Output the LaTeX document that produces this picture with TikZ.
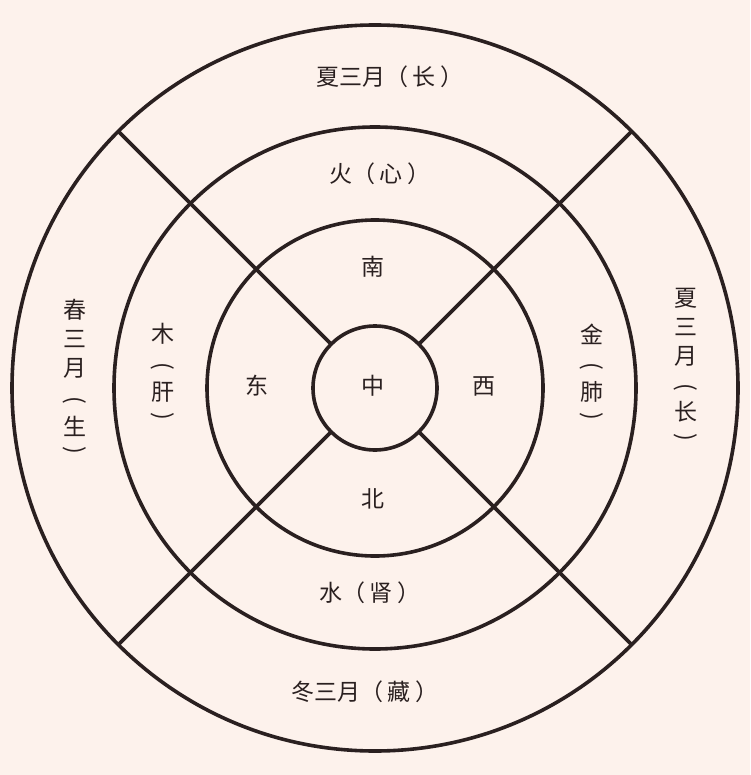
\documentclass[tikz,border=0pt]{standalone}
\usepackage{fontspec}
\usetikzlibrary{calc}
\newfontfamily\cjk{Noto Sans CJK SC}
\definecolor{bg}{HTML}{FDF2EC}
\definecolor{ink}{HTML}{2A2020}
\newcommand{\lp}{（\hspace{5pt}}
\newcommand{\rp}{\hspace{5pt}）}
\begin{document}
\begin{tikzpicture}[x=1pt,y=-1pt,
  ring/.style={draw=ink,line width=3.6pt},
  spoke/.style={draw=ink,line width=3.6pt},
  lab/.style={font=\cjk\fontsize{23}{23}\selectfont,text=ink,inner sep=0pt},
  vp/.style={lab,rotate=-90}]
\fill[bg] (0,0) rectangle (750,775);
\useasboundingbox (0,0) rectangle (750,775);
\coordinate (c) at (375,388);
\draw[ring] (c) circle (363);
\draw[ring] (c) circle (261);
\draw[ring] (c) circle (168);
\draw[ring] (c) circle (62);
\foreach \a in {45,135,225,315}{
  \draw[spoke] ($(c)+(\a:62)$) -- ($(c)+(\a:363)$);
}
\node[lab] (t1) at (390,77) {夏三月\lp 长\rp};
\node[lab] (t2) at (380,174) {火\lp 心\rp};
\node[lab] (t3) at (373,267) {南};
\node[lab] (t4) at (257,386) {东};
\node[lab] (t5) at (373,386) {中};
\node[lab] (t6) at (484,386) {西};
\node[lab] (t7) at (373,499) {北};
\node[lab] (t8) at (370,593) {水\lp 肾\rp};
\node[lab] (t9) at (365,692) {冬三月\lp 藏\rp};
\node[lab] (l1) at (75,310) {春};
\node[lab] (l2) at (75,339) {三};
\node[lab] (l3) at (75,368) {月};
\node[vp] (l4) at (75,400) {(};
\node[lab] (l5) at (75,426) {生};
\node[vp] (l6) at (75,450) {)};
\node[lab] (r1) at (686,298) {夏};
\node[lab] (r2) at (686,327) {三};
\node[lab] (r3) at (686,356) {月};
\node[vp] (r4) at (686,387) {(};
\node[lab] (r5) at (686,412) {长};
\node[vp] (r6) at (686,437) {)};
\node[lab] (m1) at (163,334) {木};
\node[vp] (m2) at (163,366) {(};
\node[lab] (m3) at (163,392) {肝};
\node[vp] (m4) at (163,416) {)};
\node[lab] (n1) at (592,334) {金};
\node[vp] (n2) at (592,366) {(};
\node[lab] (n3) at (592,392) {肺};
\node[vp] (n4) at (592,416) {)};
\end{tikzpicture}
\end{document}
